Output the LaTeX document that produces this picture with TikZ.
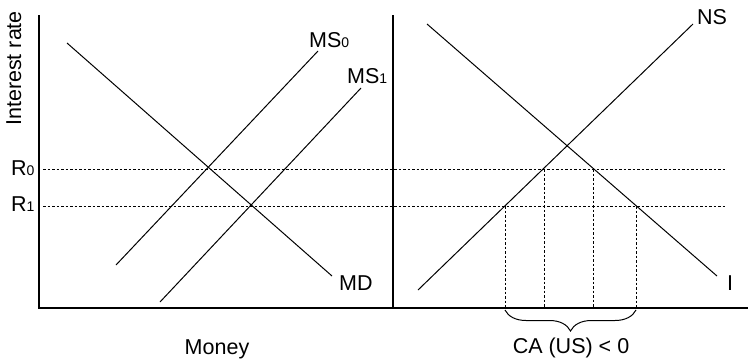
\documentclass[tikz,border=0pt]{standalone}
\usepackage{fontspec}
\setmainfont{Liberation Sans}
\usetikzlibrary{decorations.pathreplacing}
\begin{document}
\begin{tikzpicture}[x=1pt,y=-1pt,
  axisline/.style={line width=1.2pt},
  curve/.style={line width=1pt},
  guide/.style={line width=0.85pt, dash pattern=on 2.5pt off 2pt},
  lbl/.style={inner sep=0pt, font=\fontsize{21.5}{25}\selectfont}]
\newcommand{\smalldigit}[1]{{\fontsize{14}{15}\selectfont #1}}
\useasboundingbox (0,0) rectangle (748,359);
% axes
\coordinate (ltop) at (39,15);
\coordinate (origin) at (39,308);
\coordinate (xend) at (748,308);
\coordinate (rtop) at (393,15);
\coordinate (rbot) at (393,308);
\draw[axisline] (ltop) -- (origin) -- (xend);
\draw[axisline] (rtop) -- (rbot);
% money market
\coordinate (md1) at (67,43);   \coordinate (md2) at (332,276);
\coordinate (ms01) at (116,265); \coordinate (ms02) at (318,51);
\coordinate (ms11) at (160,302); \coordinate (ms12) at (361,88);
\draw[curve] (md1) -- (md2);
\draw[curve] (ms01) -- (ms02);
\draw[curve] (ms11) -- (ms12);
% rates
\coordinate (r0a) at (43,169); \coordinate (r0b) at (725,169);
\coordinate (r1a) at (43,206); \coordinate (r1b) at (725,206);
\draw[guide] (r0a) -- (r0b);
\draw[guide] (r1a) -- (r1b);
% saving / investment
\coordinate (i1) at (427,24); \coordinate (i2) at (717,276);
\coordinate (ns1) at (418,290); \coordinate (ns2) at (693,24);
\draw[curve] (i1) -- (i2);
\draw[curve] (ns1) -- (ns2);
% verticals
\coordinate (v1t) at (505,206); \coordinate (v1b) at (505,308);
\coordinate (v2t) at (544,169); \coordinate (v2b) at (544,308);
\coordinate (v3t) at (593,169); \coordinate (v3b) at (593,308);
\coordinate (v4t) at (636,206); \coordinate (v4b) at (636,308);
\draw[guide] (v1t) -- (v1b);
\draw[guide] (v2t) -- (v2b);
\draw[guide] (v3t) -- (v3b);
\draw[guide] (v4t) -- (v4b);
% brace
\coordinate (b1) at (505,310); \coordinate (b2) at (636,310);
\draw[line width=1pt, decorate, decoration={brace, mirror, amplitude=21pt}] (b1) -- (b2);
% labels
\node[lbl, anchor=base west] (lms0) at (309,47) {MS\smalldigit{0}};
\node[lbl, anchor=base west] (lms1) at (347,83) {MS\smalldigit{1}};
\node[lbl, anchor=base west] (lmd) at (339,290) {MD};
\node[lbl, anchor=base west] (lr0) at (11,175) {R\smalldigit{0}};
\node[lbl, anchor=base west] (lr1) at (11,211) {R\smalldigit{1}};
\node[lbl, anchor=base west] (lns) at (697,24) {NS};
\node[lbl, anchor=base west] (li) at (727,290) {I};
\node[lbl, anchor=base] (lmoney) at (217,354) {Money};
\node[lbl, anchor=base] (lca) at (571,353) {CA (US) < 0};
\node[lbl, rotate=90, anchor=base west] (lir) at (21,126) {Interest rate};
\end{tikzpicture}
\end{document}
